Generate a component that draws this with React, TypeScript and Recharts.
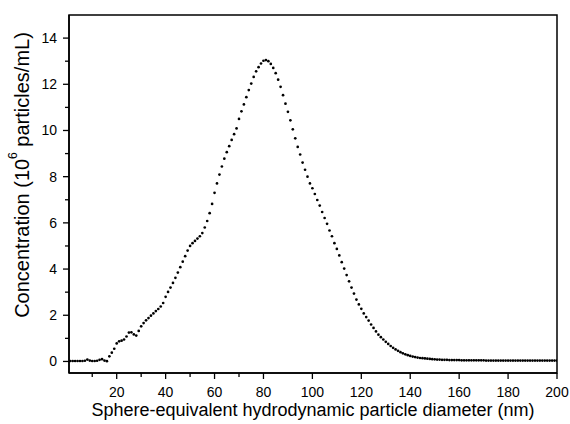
import { ScatterChart, Scatter, XAxis, YAxis, ReferenceArea } from "recharts"

// particle diameter (nm)
const diameters = [
  1, 2, 3, 4, 5, 6, 7, 8, 9, 10, 11, 12, 13, 14, 15, 16, 17, 18, 19, 20,
  21, 22, 23, 24, 25, 26, 27, 28, 29, 30, 31, 32, 33, 34, 35, 36, 37, 38, 39, 40,
  41, 42, 43, 44, 45, 46, 47, 48, 49, 50, 51, 52, 53, 54, 55, 56, 57, 58, 59, 60,
  61, 62, 63, 64, 65, 66, 67, 68, 69, 70, 71, 72, 73, 74, 75, 76, 77, 78, 79, 80,
  81, 82, 83, 84, 85, 86, 87, 88, 89, 90, 91, 92, 93, 94, 95, 96, 97, 98, 99, 100,
  101, 102, 103, 104, 105, 106, 107, 108, 109, 110, 111, 112, 113, 114, 115, 116, 117, 118, 119, 120,
  121, 122, 123, 124, 125, 126, 127, 128, 129, 130, 131, 132, 133, 134, 135, 136, 137, 138, 139, 140,
  141, 142, 143, 144, 145, 146, 147, 148, 149, 150, 151, 152, 153, 154, 155, 156, 157, 158, 159, 160,
  161, 162, 163, 164, 165, 166, 167, 168, 169, 170, 171, 172, 173, 174, 175, 176, 177, 178, 179, 180,
  181, 182, 183, 184, 185, 186, 187, 188, 189, 190, 191, 192, 193, 194, 195, 196, 197, 198, 199, 200,
]

// concentration (10^6 particles/mL)
const concentration = [
  0.02, 0.02, 0.02, 0.02, 0.02, 0.02, 0.03, 0.08, 0.04, 0.02, 0.02, 0.03, 0.07, 0.1, 0.04, 0.01, 0.22, 0.38, 0.55, 0.78,
  0.87, 0.9, 0.95, 1.08, 1.25, 1.26, 1.17, 1.12, 1.32, 1.52, 1.66, 1.78, 1.88, 1.98, 2.08, 2.18, 2.27, 2.38, 2.53, 2.8,
  3.01, 3.2, 3.4, 3.62, 3.85, 4.08, 4.32, 4.56, 4.8, 5.0, 5.12, 5.22, 5.32, 5.42, 5.56, 5.8, 6.08, 6.42, 6.82, 7.3,
  7.71, 8.09, 8.44, 8.78, 9.06, 9.32, 9.59, 9.84, 10.09, 10.5, 10.83, 11.13, 11.44, 11.75, 12.03, 12.32, 12.56, 12.74, 12.9, 13.02,
  13.05, 13.0, 12.88, 12.71, 12.48, 12.2, 11.89, 11.53, 11.16, 10.81, 10.44, 10.05, 9.66, 9.29, 8.96, 8.61, 8.3, 8.0, 7.71, 7.5,
  7.25, 6.99, 6.75, 6.47, 6.21, 5.96, 5.67, 5.42, 5.12, 4.87, 4.59, 4.3, 4.02, 3.74, 3.47, 3.2, 2.94, 2.68, 2.47, 2.28,
  2.08, 1.92, 1.77, 1.6, 1.45, 1.3, 1.16, 1.05, 0.95, 0.85, 0.76, 0.67, 0.59, 0.52, 0.46, 0.4, 0.35, 0.31, 0.27, 0.24,
  0.21, 0.19, 0.17, 0.15, 0.14, 0.13, 0.12, 0.11, 0.1, 0.09, 0.08, 0.08, 0.07, 0.07, 0.07, 0.06, 0.06, 0.06, 0.06, 0.06,
  0.05, 0.05, 0.05, 0.05, 0.05, 0.05, 0.05, 0.05, 0.05, 0.05, 0.04, 0.04, 0.04, 0.04, 0.04, 0.04, 0.04, 0.04, 0.04, 0.04,
  0.04, 0.04, 0.04, 0.04, 0.04, 0.04, 0.04, 0.04, 0.04, 0.04, 0.04, 0.04, 0.04, 0.04, 0.04, 0.04, 0.04, 0.04, 0.04, 0.04,
]

const xTicks = [10, 20, 30, 40, 50, 60, 70, 80, 90, 100, 110, 120, 130, 140, 150, 160, 170, 180, 190, 200]
const yTicks = [0, 1, 2, 3, 4, 5, 6, 7, 8, 9, 10, 11, 12, 13, 14]
const xLabeled = [20, 40, 60, 80, 100, 120, 140, 160, 180, 200]
const yLabeled = [0, 2, 4, 6, 8, 10, 12, 14]

const data = diameters.map((d, i) => ({ d, c: concentration[i] }))

const font = "'Liberation Sans', Arial, sans-serif"

const XTick = (props: any) => {
  const { x, y, payload } = props
  const major = xLabeled.includes(payload.value)
  return (
    <g>
      <line x1={x} y1={y} x2={x} y2={y + (major ? 6 : 4)} stroke="#000" strokeWidth={1.3} />
      {major && (
        <text x={x} y={y + 24} textAnchor="middle" fontSize={14} fontFamily={font} fill="#000">
          {payload.value}
        </text>
      )}
    </g>
  )
}

const YTick = (props: any) => {
  const { x, y, payload } = props
  const major = yLabeled.includes(payload.value)
  return (
    <g>
      <line x1={x} y1={y} x2={x - (major ? 6 : 4)} y2={y} stroke="#000" strokeWidth={1.3} />
      {major && (
        <text x={x - 12} y={y + 5} textAnchor="end" fontSize={14} fontFamily={font} fill="#000">
          {payload.value}
        </text>
      )}
    </g>
  )
}

const Dot = (props: any) => <circle cx={props.cx} cy={props.cy} r={1.35} fill="#000" />

export default function App() {
  return (
    <div style={{ position: "absolute", left: 0, top: 0, background: "#fff" }}>
      <ScatterChart width={570} height={424} margin={{ top: 15, right: 13, left: 0, bottom: 0 }}>
        <XAxis
          type="number"
          dataKey="d"
          domain={[0.5, 200]}
          ticks={xTicks}
          allowDataOverflow
          height={51}
          tickSize={0}
          tickMargin={0}
          tickLine={false}
          tick={<XTick />}
          axisLine={{ stroke: "#000", strokeWidth: 1.5 }}
          label={() => (
            <text x={313} y={416} textAnchor="middle" fontSize={18} fontFamily={font} fill="#000">
              Sphere-equivalent hydrodynamic particle diameter (nm)
            </text>
          )}
        />
        <YAxis
          type="number"
          dataKey="c"
          domain={[-0.5, 15]}
          ticks={yTicks}
          allowDataOverflow
          width={69}
          tickSize={0}
          tickMargin={0}
          tickLine={false}
          tick={<YTick />}
          axisLine={{ stroke: "#000", strokeWidth: 1.5 }}
          label={() => (
            <text
              x={22}
              y={175}
              transform="rotate(-90 22 175)"
              textAnchor="middle"
              dominantBaseline="central"
              fontSize={20}
              fontFamily={font}
              fill="#000"
            >
              Concentration (10<tspan dy={-9} fontSize={12}>6</tspan>
              <tspan dy={9}> particles/mL)</tspan>
            </text>
          )}
        />
        <ReferenceArea x1={0.5} x2={200} y1={-0.5} y2={15} fill="none" stroke="#000" strokeWidth={1.5} />
        <Scatter data={data} shape={<Dot />} isAnimationActive={false} />
      </ScatterChart>
    </div>
  )
}
